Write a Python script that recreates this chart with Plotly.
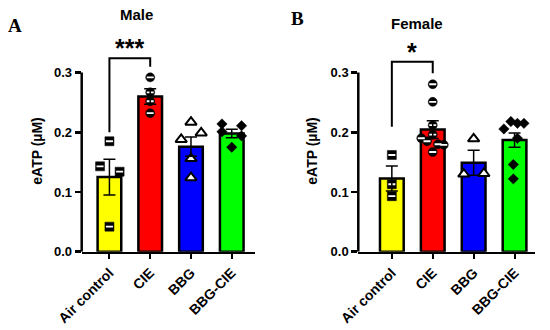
import plotly.graph_objects as go

# ---------------- data ----------------
categories = ["Air control", "CIE", "BBG", "BBG-CIE"]
y_ticks = [0.0, 0.1, 0.2, 0.3]
y_tick_labels = ["0.0", "0.1", "0.2", "0.3"]

male_means = [0.125, 0.260, 0.176, 0.198]
male_sem = [0.030, 0.013, 0.016, 0.007]
male_points = [
    [0.185, 0.143, 0.134, 0.042],
    [0.292, 0.267, 0.252, 0.232],
    [0.217, 0.199, 0.188, 0.156, 0.124],
    [0.214, 0.211, 0.201, 0.194, 0.175],
]
male_jitter = [
    [0, -0.23, 0.25, 0],
    [0, 0, 0, 0],
    [0, 0.25, -0.24, 0, 0],
    [-0.24, 0.24, -0.24, 0.24, 0],
]

female_means = [0.1225, 0.2045, 0.149, 0.187]
female_sem = [0.021, 0.015, 0.021, 0.012]
female_points = [
    [0.162, 0.113, 0.093],
    [0.2805, 0.251, 0.212, 0.196, 0.190, 0.185, 0.180, 0.179, 0.167],
    [0.189, 0.130, 0.131],
    [0.2056, 0.218, 0.215, 0.215, 0.190, 0.146, 0.122],
]
female_jitter = [
    [0, 0, 0],
    [0, 0, 0, 0, -0.28, -0.14, 0.13, 0.27, 0],
    [0, -0.24, 0.25],
    [-0.26, -0.09, 0.07, 0.23, 0.07, -0.03, -0.03],
]

# significance: (group a, group b, leg a top, leg b top, bracket top, label)
male_sig = (0, 1, 0.200, 0.310, 0.324, "***")
female_sig = (0, 1, 0.2095, 0.299, 0.318, "*")

panel_titles = ["Male", "Female"]
panel_letters = ["A", "B"]
y_title = "eATP (µM)"

# ---------------- styles ----------------
bar_colors = ["#FFFF00", "#FF0000", "#0000FF", "#00FF00"]
FONT = "Arial, Liberation Sans, Helvetica, sans-serif"
SERIF = "Times New Roman, Liberation Serif, serif"

fig = go.Figure()


def add_panel(means, sem, points, jitter, sig, xa, ya):
    xs = list(range(len(categories)))
    fig.add_trace(go.Bar(
        x=xs, y=means, width=0.58,
        marker=dict(color=bar_colors, line=dict(color="black", width=2.5)),
        xaxis=xa, yaxis=ya, showlegend=False,
    ))
    # points
    for gi, (vals, jit) in enumerate(zip(points, jitter)):
        px = [gi + j for j in jit]
        if gi in (0, 1):
            sym = "square" if gi == 0 else "circle"
            fig.add_trace(go.Scatter(
                x=px, y=vals, mode="markers",
                marker=dict(symbol=sym, size=9, color="black",
                            line=dict(color="black", width=0.5)),
                xaxis=xa, yaxis=ya, showlegend=False))
            fig.add_trace(go.Scatter(
                x=px, y=vals, mode="markers",
                marker=dict(symbol="line-ew", size=5,
                            line=dict(color="white", width=1.8)),
                xaxis=xa, yaxis=ya, showlegend=False))
        elif gi == 2:
            fig.add_trace(go.Scatter(
                x=px, y=vals, mode="markers",
                marker=dict(symbol="triangle-up", size=10, color="white",
                            line=dict(color="black", width=2)),
                xaxis=xa, yaxis=ya, showlegend=False))
        else:
            fig.add_trace(go.Scatter(
                x=px, y=vals, mode="markers",
                marker=dict(symbol="diamond", size=8, color="black",
                            line=dict(color="black", width=0.5)),
                xaxis=xa, yaxis=ya, showlegend=False))
    # error bars (SEM)
    fig.add_trace(go.Scatter(
        x=xs, y=means, mode="markers",
        marker=dict(size=0.1, color="rgba(0,0,0,0)"),
        error_y=dict(type="data", array=sem, visible=True,
                     color="black", thickness=1.5, width=6),
        xaxis=xa, yaxis=ya, showlegend=False))
    # significance bracket
    a, b, la, lb, top, label = sig
    fig.add_trace(go.Scatter(
        x=[a, a, b, b], y=[la, top, top, lb], mode="lines",
        line=dict(color="black", width=2),
        xaxis=xa, yaxis=ya, showlegend=False, cliponaxis=False))
    fig.add_annotation(x=(a + b) / 2, y=top, xref=xa, yref=ya,
                       text=label, showarrow=False, yanchor="bottom",
                       yshift=-6,
                       font=dict(family=FONT, size=25, color="black", weight=700))
    # y axis line only from 0 to max tick
    fig.add_shape(type="line", xref=f"{xa} domain", yref=ya,
                  x0=0, x1=0, y0=y_ticks[0], y1=y_ticks[-1],
                  line=dict(color="black", width=2.5))


add_panel(male_means, male_sem, male_points, male_jitter, male_sig, "x", "y")
add_panel(female_means, female_sem, female_points, female_jitter, female_sig, "x2", "y2")

W, H = 550, 330
ydom = [1 - 251.7 / H, 1 - 51.7 / H]

xaxis_common = dict(
    tickmode="array", tickvals=list(range(len(categories))), ticktext=categories,
    tickangle=-45, ticks="outside", ticklen=5, tickwidth=2, tickcolor="black",
    showline=True, linecolor="black", linewidth=2.5, showgrid=False, zeroline=False,
    automargin=False,
    tickfont=dict(family=FONT, size=14, color="black", weight=700),
)
yaxis_common = dict(
    range=[0, 0.335], tickmode="array", tickvals=y_ticks, ticktext=y_tick_labels,
    ticks="outside", ticklen=6, tickwidth=2.5, tickcolor="black",
    showline=False, showgrid=False, zeroline=False, automargin=False,
    tickfont=dict(family=FONT, size=13, color="black", weight=700),
)

fig.update_layout(
    template="none",
    width=W, height=H,
    margin=dict(l=0, r=0, t=0, b=0, autoexpand=False),
    paper_bgcolor="white", plot_bgcolor="white",
    bargap=0,
    xaxis=dict(xaxis_common, domain=[81.7 / W, 255 / W], range=[-0.68, 3.57], anchor="y"),
    yaxis=dict(yaxis_common, domain=ydom, anchor="x"),
    xaxis2=dict(xaxis_common, domain=[358.3 / W, 535 / W], range=[-0.82, 3.5], anchor="y2"),
    yaxis2=dict(yaxis_common, domain=ydom, anchor="x2"),
)

# titles, letters, y axis titles
title_pos = [(136, 15), (417, 23)]
letter_pos = [(14.5, 26), (297, 18)]
ytitle_x = [37, 312]
for i in range(2):
    tx, ty = title_pos[i]
    fig.add_annotation(x=tx / W, y=1 - ty / H, xref="paper", yref="paper",
                       text=panel_titles[i], showarrow=False,
                       xanchor="center", yanchor="middle",
                       font=dict(family=FONT, size=15, color="black", weight=700))
    lx, ly = letter_pos[i]
    fig.add_annotation(x=lx / W, y=1 - ly / H, xref="paper", yref="paper",
                       text=panel_letters[i], showarrow=False,
                       xanchor="center", yanchor="middle",
                       font=dict(family=SERIF, size=19, color="black", weight=700))
    fig.add_annotation(x=ytitle_x[i] / W, y=(ydom[0] + ydom[1]) / 2,
                       xref="paper", yref="paper", text=y_title, textangle=-90,
                       showarrow=False, xanchor="center", yanchor="middle",
                       font=dict(family=FONT, size=14, color="black", weight=700))

fig.write_html(
    "out.html",
    config={"displayModeBar": False, "staticPlot": True},
    post_script="document.body.style.margin='0';document.body.style.overflow='hidden';",
)
